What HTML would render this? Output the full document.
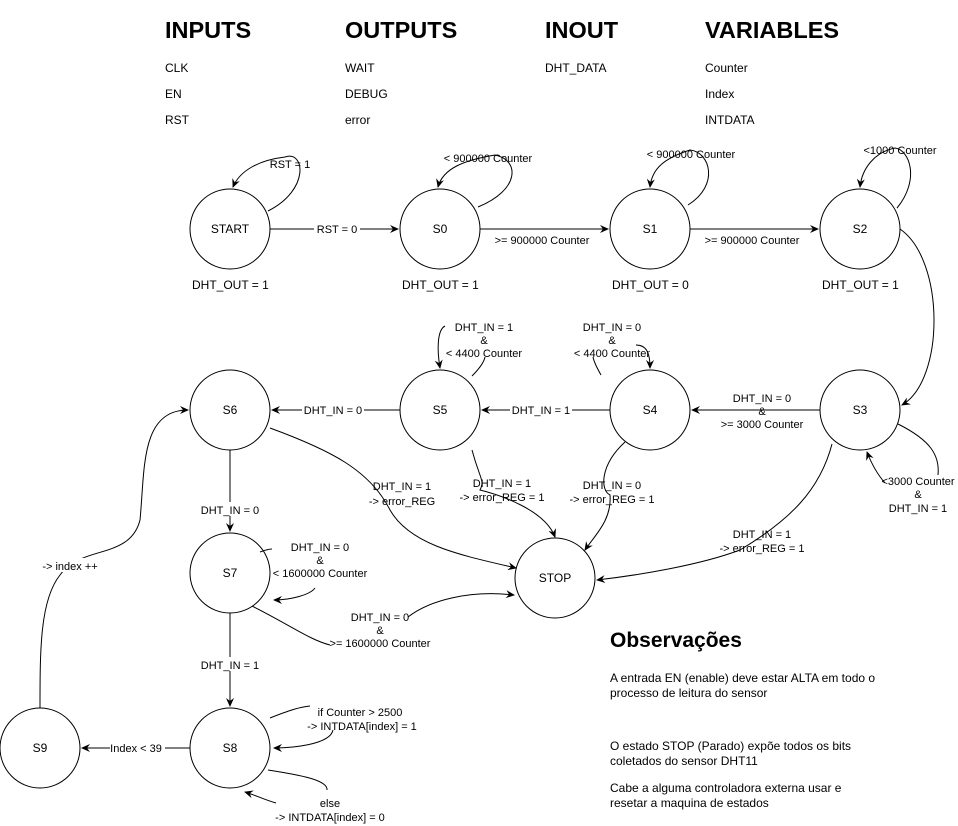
<!DOCTYPE html>
<html><head><meta charset="utf-8"><style>
html,body{margin:0;padding:0;background:#fff;}
svg{display:block;font-family:"Liberation Sans",Arial,sans-serif;}
</style></head><body>
<svg width="958" height="826" viewBox="0 0 958 826" xmlns="http://www.w3.org/2000/svg">
<defs><marker id="a" markerWidth="10" markerHeight="10" refX="8" refY="5" orient="auto" markerUnits="userSpaceOnUse"><path d="M0,1 L9,5 L0,9 L3,5 Z" fill="#000"/></marker></defs>
<g font-weight="bold" font-size="23.5" fill="#000">
<text x="165" y="38">INPUTS</text><text x="345" y="38">OUTPUTS</text><text x="545" y="38">INOUT</text><text x="705" y="38">VARIABLES</text>
</g>
<g font-size="12" fill="#000">
<text x="165" y="72">CLK</text><text x="165" y="98">EN</text><text x="165" y="124">RST</text>
<text x="345" y="72">WAIT</text><text x="345" y="98">DEBUG</text><text x="345" y="124">error</text>
<text x="545" y="72">DHT_DATA</text>
<text x="705" y="72">Counter</text><text x="705" y="98">Index</text><text x="705" y="124">INTDATA</text>
<text x="192" y="289">DHT_OUT = 1</text><text x="402" y="289">DHT_OUT = 1</text><text x="612" y="289">DHT_OUT = 0</text><text x="822" y="289">DHT_OUT = 1</text>
</g>
<g fill="none" stroke="#000" stroke-width="1">
<circle cx="230" cy="229" r="40"/><circle cx="440" cy="229" r="40"/><circle cx="650" cy="229" r="40"/><circle cx="860" cy="229" r="40"/>
<circle cx="230" cy="410" r="40"/><circle cx="440" cy="410" r="40"/><circle cx="650" cy="410" r="40"/><circle cx="860" cy="410" r="40"/>
<circle cx="230" cy="573" r="40"/><circle cx="230" cy="748" r="40"/><circle cx="40" cy="748" r="40"/><circle cx="555" cy="578" r="40"/>
</g>
<g fill="none" stroke="#000" stroke-width="1" marker-end="url(#a)">
<path d="M268,211 C310,190 305,150 285,157 C260,160 240,170 233,187"/>
<path d="M270,229 L398,229"/>
<path d="M478,207 C520,190 520,160 495,155 C465,160 443,168 438,187"/>
<path d="M480,229 L608,229"/>
<path d="M688,205 C720,185 710,152 690,150 C665,158 652,168 650,187"/>
<path d="M690,229 L818,229"/>
<path d="M897,208 C920,180 910,150 895,148 C875,152 862,168 860,187"/>
<path d="M900,229 C945,260 945,380 902,405"/>
<path d="M820,410 L692,410"/>
<path d="M885,483 C878,475 872,465 867,452"/>
<path d="M610,410 L482,410"/>
<path d="M400,410 L272,410"/>
<path d="M445,326 C437,330 437,350 440,368"/>
<path d="M636,345 C646,345 650,352 650,368"/>
<path d="M230,450 L230,531"/>
<path d="M270,428 C330,450 370,470 390,510 C410,545 460,555 516,568"/>
<path d="M472,450 C480,480 485,480 480,490 C500,495 545,510 555,537"/>
<path d="M625,442 C600,465 600,490 610,495 C612,520 595,535 585,550"/>
<path d="M832,444 C820,490 790,520 740,550 C700,565 640,575 597,580"/>
<path d="M230,613 L230,706"/>
<path d="M315,588 C310,595 290,600 274,600"/>
<path d="M333,730 C330,745 290,748 274,748"/>
<path d="M190,748 L82,748"/>
<path d="M40,708 C40,650 40,600 60,575 C80,545 130,560 140,520 C145,470 140,410 188,410"/>
<path d="M408,617 C430,600 470,590 514,595"/>
<path d="M276,803 C265,800 255,795 245,792"/>
</g>
<g fill="none" stroke="#000" stroke-width="1">
<path d="M260,552 C268,549 270,549 272,549"/>
<path d="M270,718 C290,710 300,707 310,706"/>
<path d="M252,606 C290,625 310,640 330,645"/>
<path d="M268,770 C300,775 328,780 327,790"/>
<path d="M898,424 C930,440 940,455 938,475"/>
<path d="M472,376 C480,368 484,362 485,357"/>
<path d="M601,375 C597,368 594,362 593,357"/>
</g>
<g font-size="11" fill="#000" text-anchor="middle">
<g fill="#fff" stroke="none">
<rect x="314" y="223" width="46" height="12"/><rect x="510" y="404" width="62" height="12"/><rect x="302" y="404" width="62" height="12"/>
<rect x="110" y="742" width="55" height="12"/><rect x="200" y="502" width="60" height="14"/><rect x="198" y="657" width="64" height="14"/>
<rect x="40" y="558" width="60" height="14"/>
</g>
<text x="290" y="168">RST = 1</text>
<text x="337" y="233">RST = 0</text>
<text x="488" y="162">&lt; 900000 Counter</text>
<text x="542" y="244">&gt;= 900000 Counter</text>
<text x="691" y="158">&lt; 900000 Counter</text>
<text x="752" y="244">&gt;= 900000 Counter</text>
<text x="900" y="154">&lt;1000 Counter</text>
<text x="484" y="331">DHT_IN = 1</text><text x="484" y="344">&amp;</text><text x="484" y="357">&lt; 4400 Counter</text>
<text x="612" y="331">DHT_IN = 0</text><text x="612" y="344">&amp;</text><text x="612" y="357">&lt; 4400 Counter</text>
<text x="762" y="402">DHT_IN = 0</text><text x="762" y="415">&amp;</text><text x="762" y="428">&gt;= 3000 Counter</text>
<text x="541" y="414">DHT_IN = 1</text>
<text x="333" y="414">DHT_IN = 0</text>
<text x="918" y="485">&lt;3000 Counter</text><text x="918" y="498">&amp;</text><text x="918" y="512">DHT_IN = 1</text>
<text x="402" y="490">DHT_IN = 1</text><text x="402" y="505">-&gt; error_REG</text>
<text x="502" y="487">DHT_IN = 1</text><text x="502" y="501">-&gt; error_REG = 1</text>
<text x="612" y="489">DHT_IN = 0</text><text x="612" y="503">-&gt; error_REG = 1</text>
<text x="762" y="538">DHT_IN = 1</text><text x="762" y="552">-&gt; error_REG = 1</text>
<text x="230" y="514">DHT_IN = 0</text>
<text x="320" y="551">DHT_IN = 0</text><text x="320" y="564">&amp;</text><text x="320" y="577">&lt; 1600000 Counter</text>
<text x="380" y="621">DHT_IN = 0</text><text x="380" y="634">&amp;</text><text x="380" y="647">&gt;= 1600000 Counter</text>
<text x="230" y="669">DHT_IN = 1</text>
<text x="360" y="716">if Counter &gt; 2500</text><text x="362" y="730">-&gt; INTDATA[index] = 1</text>
<text x="330" y="807">else</text><text x="330" y="821">-&gt; INTDATA[index] = 0</text>
<text x="136" y="752">Index &lt; 39</text>
<text x="70" y="570">-&gt; index ++</text>
<text x="230" y="233" font-size="12">START</text>
<text x="440" y="233" font-size="12">S0</text><text x="650" y="233" font-size="12">S1</text><text x="860" y="233" font-size="12">S2</text>
<text x="230" y="414" font-size="12">S6</text><text x="440" y="414" font-size="12">S5</text><text x="650" y="414" font-size="12">S4</text><text x="860" y="414" font-size="12">S3</text>
<text x="230" y="577" font-size="12">S7</text><text x="230" y="752" font-size="12">S8</text><text x="40" y="752" font-size="12">S9</text><text x="555" y="582" font-size="12">STOP</text>
</g>
<text x="610" y="647" font-size="21" font-weight="bold">Observações</text>
<g font-size="12" fill="#000">
<text x="610" y="682">A entrada EN (enable) deve estar ALTA em todo o</text>
<text x="610" y="697">processo de leitura do sensor</text>
<text x="610" y="750">O estado STOP (Parado) expõe todos os bits</text>
<text x="610" y="765">coletados do sensor DHT11</text>
<text x="610" y="792">Cabe a alguma controladora externa usar e</text>
<text x="610" y="807">resetar a maquina de estados</text>
</g>
</svg>
</body></html>
